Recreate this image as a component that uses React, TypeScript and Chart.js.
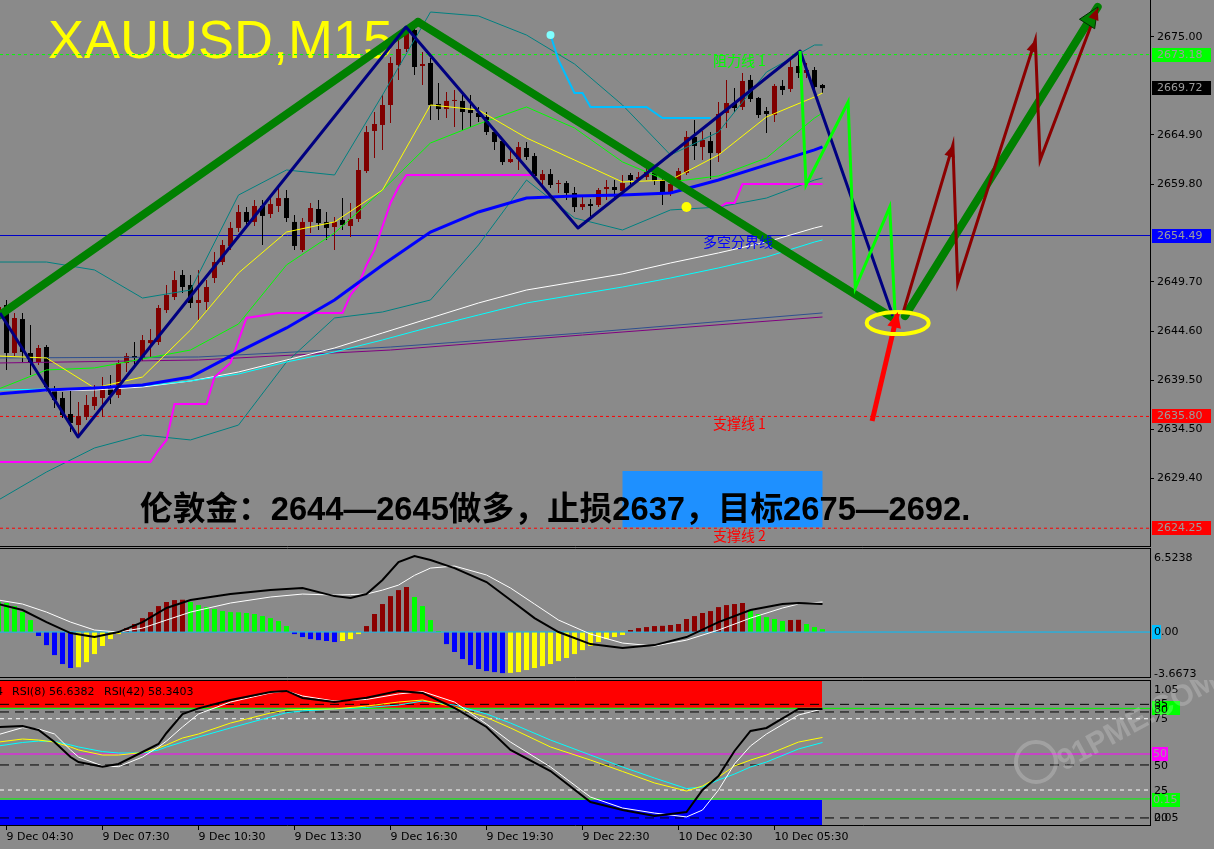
import React, { useEffect, useRef } from "react";
import { Chart, registerables } from "chart.js";

Chart.register(...registerables);

const BG = "#8a8a8a";
const AXIS_FONT = "'DejaVu Sans', Tahoma, sans-serif";

// ---------- time axis (bar index, M15 bars) ----------
const FIRST_BAR = -1;
const X_MIN = -0.8125;
const X_MAX = 142.9375;
const timeTickIdx = [0, 12, 24, 36, 48, 60, 72, 84, 96];
const timeLabels = [
  "9 Dec 04:30", "9 Dec 07:30", "9 Dec 10:30", "9 Dec 13:30", "9 Dec 16:30",
  "9 Dec 19:30", "9 Dec 22:30", "10 Dec 02:30", "10 Dec 05:30",
];

// ---------- XAUUSD M15 candles (bar -1 .. 102) ----------
const opens = [
  2645.97, 2647.31, 2642.35, 2645.86, 2642.35, 2641.42, 2642.97, 2638.53, 2637.70, 2636.05,
  2634.91, 2635.74, 2636.88, 2637.70, 2638.74, 2638.01, 2641.32, 2642.04, 2641.84, 2643.38,
  2643.49, 2646.79, 2648.14, 2650.41, 2649.38, 2647.52, 2647.62, 2650.10, 2651.75, 2653.41,
  2655.27, 2656.92, 2655.89, 2657.54, 2656.71, 2657.54, 2658.36, 2655.89, 2652.99, 2655.89,
  2657.23, 2655.89, 2655.37, 2656.09, 2655.47, 2656.20, 2661.15, 2665.29, 2665.91, 2667.97,
  2672.10, 2673.76, 2675.72, 2672.00, 2672.31, 2668.08, 2667.56, 2668.39, 2668.39, 2667.46,
  2667.15, 2666.73, 2665.18, 2664.25, 2662.08, 2662.39, 2663.53, 2662.70, 2660.22, 2660.84,
  2659.81, 2659.91, 2658.88, 2657.43, 2657.74, 2657.64, 2659.29, 2659.50, 2659.09, 2660.74,
  2660.33, 2660.53, 2660.95, 2660.22, 2658.78, 2659.81, 2660.95, 2664.67, 2663.63, 2664.25,
  2663.01, 2667.15, 2668.18, 2667.77, 2670.56, 2668.70, 2667.35, 2666.94, 2669.94, 2669.63,
  2672.00, 2671.28, 2671.59, 2670.04,
];
const highs = [
  2647.52, 2647.83, 2646.49, 2646.49, 2645.24, 2643.18, 2643.18, 2638.94, 2638.32, 2638.53,
  2637.29, 2638.01, 2639.05, 2639.87, 2640.08, 2641.63, 2642.35, 2643.49, 2644.21, 2644.83,
  2647.31, 2649.38, 2650.82, 2650.93, 2650.41, 2650.93, 2649.89, 2652.79, 2654.03, 2655.89,
  2657.64, 2657.43, 2658.16, 2658.16, 2658.36, 2659.71, 2659.19, 2656.61, 2656.30, 2657.85,
  2658.16, 2656.92, 2656.40, 2658.36, 2657.85, 2662.50, 2665.80, 2667.25, 2669.01, 2672.93,
  2674.89, 2676.03, 2676.13, 2673.45, 2672.83, 2670.25, 2669.32, 2669.52, 2669.32, 2669.01,
  2667.77, 2667.25, 2665.39, 2664.46, 2663.32, 2664.15, 2664.15, 2663.01, 2661.26, 2661.36,
  2660.22, 2660.12, 2659.50, 2658.67, 2658.26, 2659.40, 2660.22, 2660.22, 2660.74, 2660.95,
  2661.05, 2661.46, 2661.36, 2660.43, 2660.02, 2661.46, 2665.29, 2666.42, 2665.29, 2665.18,
  2668.28, 2670.56, 2669.73, 2671.28, 2671.07, 2668.80, 2667.77, 2670.14, 2670.56, 2672.62,
  2673.45, 2672.31, 2671.90, 2670.14,
];
const lows = [
  2645.76, 2640.60, 2642.04, 2641.42, 2640.08, 2641.11, 2638.32, 2636.67, 2635.64, 2634.19,
  2633.78, 2635.43, 2636.46, 2635.74, 2637.08, 2637.70, 2640.39, 2640.80, 2641.53, 2641.94,
  2643.18, 2646.48, 2647.83, 2648.55, 2647.00, 2645.76, 2646.79, 2649.58, 2651.44, 2652.99,
  2654.85, 2655.47, 2655.47, 2653.51, 2656.30, 2656.92, 2655.89, 2652.99, 2652.79, 2654.75,
  2655.06, 2654.03, 2652.99, 2655.06, 2654.34, 2655.89, 2660.95, 2662.50, 2663.32, 2666.11,
  2670.56, 2673.45, 2671.07, 2670.04, 2666.42, 2666.42, 2666.63, 2665.70, 2665.39, 2665.70,
  2666.22, 2664.87, 2663.32, 2661.77, 2661.98, 2661.26, 2662.29, 2660.43, 2659.50, 2659.40,
  2658.88, 2658.16, 2656.92, 2657.12, 2656.40, 2657.43, 2658.16, 2658.26, 2658.98, 2659.60,
  2660.02, 2660.22, 2659.71, 2657.64, 2658.57, 2659.60, 2660.74, 2662.29, 2662.29, 2660.33,
  2662.08, 2665.60, 2667.25, 2667.46, 2668.28, 2666.63, 2665.08, 2666.22, 2669.01, 2669.32,
  2670.76, 2670.76, 2669.32, 2669.21,
];
const closes = [
  2647.10, 2642.35, 2645.97, 2642.46, 2641.42, 2642.87, 2638.84, 2637.50, 2635.95, 2635.12,
  2635.84, 2636.98, 2637.81, 2638.74, 2638.01, 2641.32, 2642.04, 2641.84, 2643.69, 2643.69,
  2647.00, 2648.34, 2649.89, 2649.17, 2647.52, 2647.83, 2649.17, 2651.75, 2653.51, 2655.27,
  2656.92, 2655.89, 2657.54, 2656.51, 2657.74, 2658.36, 2656.30, 2653.41, 2655.89, 2657.33,
  2655.78, 2655.27, 2655.89, 2655.58, 2656.20, 2661.26, 2665.18, 2666.01, 2667.97, 2672.31,
  2673.76, 2675.62, 2671.90, 2672.21, 2667.97, 2667.56, 2668.39, 2668.49, 2667.25, 2667.15,
  2666.73, 2665.18, 2664.15, 2662.08, 2662.39, 2663.63, 2662.60, 2660.64, 2660.84, 2659.71,
  2659.91, 2658.88, 2657.43, 2657.74, 2657.54, 2659.19, 2659.50, 2659.19, 2659.91, 2660.22,
  2660.53, 2661.05, 2660.12, 2658.98, 2659.81, 2661.15, 2664.67, 2663.74, 2664.36, 2663.01,
  2667.04, 2668.18, 2667.66, 2670.45, 2668.59, 2666.94, 2667.04, 2669.94, 2669.52, 2671.90,
  2671.28, 2671.59, 2669.83, 2669.72,
];

// ---------- main-window indicators ----------
const maKnots = [-1, 5, 11, 17, 23, 29, 35, 41, 47, 53, 59, 65, 71, 77, 83, 89, 95, 101, 102];
const maBlue = [2638.12, 2638.53, 2638.74, 2639.05, 2639.87, 2642.46, 2644.94, 2647.83, 2651.45, 2654.85, 2656.92, 2658.37, 2658.57, 2658.68, 2658.88, 2660.23, 2661.78, 2663.33, 2663.64];
const maYellow = [2642.04, 2641.84, 2638.74, 2639.87, 2644.73, 2650.62, 2654.85, 2655.89, 2659.19, 2667.98, 2667.46, 2664.57, 2662.29, 2660.02, 2660.23, 2662.81, 2666.74, 2668.80, 2669.21];
const maGreen = [2638.63, 2640.60, 2640.81, 2641.74, 2642.66, 2645.35, 2651.45, 2654.75, 2659.19, 2664.05, 2666.01, 2667.77, 2665.60, 2662.09, 2660.02, 2660.64, 2662.50, 2666.63, 2667.15];
const bbUpper = [2651.75, 2651.75, 2650.93, 2648.03, 2648.86, 2658.67, 2661.26, 2660.74, 2669.01, 2677.58, 2677.17, 2675.20, 2672.21, 2667.97, 2662.81, 2665.18, 2671.38, 2674.17, 2674.17];
const bbLower = [2627.17, 2630.06, 2632.54, 2633.88, 2633.37, 2634.91, 2641.42, 2645.97, 2646.59, 2647.83, 2653.51, 2660.22, 2656.30, 2655.06, 2657.13, 2657.43, 2658.36, 2660.22, 2660.43];
const maWhite = [2638.22, 2638.43, 2638.53, 2638.84, 2639.46, 2640.39, 2641.63, 2642.87, 2644.42, 2645.97, 2647.52, 2648.86, 2649.69, 2650.52, 2651.65, 2652.69, 2653.82, 2655.27, 2655.47];
const maCyan = [2638.53, 2638.63, 2638.74, 2638.95, 2639.46, 2640.18, 2641.42, 2642.46, 2643.70, 2645.04, 2646.28, 2647.52, 2648.35, 2649.17, 2650.10, 2651.14, 2652.27, 2653.82, 2654.03];
const slowKnots = [-1, 24, 48, 72, 102];
const maSlate = [2641.84, 2641.94, 2642.97, 2644.42, 2646.49];
const maPurple = [2641.32, 2641.63, 2642.66, 2644.21, 2646.07];
const magentaIdx = [-1, 18, 19, 20, 21, 25, 26, 28, 30, 34, 42, 43, 44, 45, 46, 48, 49, 50, 66, 67, 89, 90, 91, 92, 102];
const magentaVal = [2631.09, 2631.09, 2632.33, 2633.37, 2637.09, 2637.09, 2639.87, 2641.32, 2645.97, 2646.49, 2646.49, 2648.35, 2649.38, 2651.45, 2653.00, 2657.85, 2659.50, 2660.74, 2660.74, null, 2657.33, 2657.85, 2657.85, 2659.81, 2659.81];
const skyIdx = [68, 69, 71, 72, 73, 80, 82, 88];
const skyVal = [2675.20, 2672.62, 2669.21, 2669.21, 2667.77, 2667.77, 2666.63, 2666.63];
const cyanDot = [68, 2675.20];
const yellowDot = [85, 2657.44];

// ---------- drawn objects (time index, price) ----------
const greenAX = [-0.81, 51.44];
const greenAY = [2646.28, 2676.55];
const greenBX = [51.44, 110.8];
const greenBY = [2676.55, 2645.97];
const greenCX = [112.3, 136.4];
const greenCY = [2646.17, 2678.1];
const navyX = [-0.81, 8.94, 49.94, 71.44, 99.2, 110.8];
const navyY = [2646.48, 2633.67, 2676.03, 2655.27, 2673.55, 2646.17];
const limeX = [99.2, 99.94, 105.2, 106.1, 110.4, 111.1];
const limeY = [2673.55, 2659.71, 2668.28, 2649.07, 2657.43, 2645.97];
const maroonX = [112.1, 118.3, 118.9, 128.6, 129.2, 136.4];
const maroonY = [2646.59, 2663.84, 2649.58, 2674.69, 2662.29, 2677.99];
const redArrowX = [108.2, 111.4];
const redArrowY = [2635.33, 2646.59];
const ellipseCenter = [111.4, 2645.45];
const hLevels = [
  { value: 2673.18, color: "#00ff00", dash: [3, 3] },
  { value: 2654.49, color: "#0000c8", dash: [] },
  { value: 2635.8, color: "#ff0000", dash: [3, 3] },
  { value: 2624.25, color: "#ff0000", dash: [3, 3] },
];
const objectLabels = [
  { text: "阻力线 1", x: 88.3, y: 2672.52, color: "#00ff00" },
  { text: "多空分界线", x: 87.06, y: 2653.82, color: "#0000ff" },
  { text: "支撑线 1", x: 88.3, y: 2635.02, color: "#ff0000" },
  { text: "支撑线 2", x: 88.3, y: 2623.45, color: "#ff0000" },
];
const noteBoxX = [77, 102];
const noteBoxY = [2624.35, 2630.16];
const chartTitle = "XAUUSD,M15";
const noteText = "伦敦金：2644—2645做多，止损2637，目标2675—2692.";
const priceTicks = [2675.0, 2664.9, 2659.8, 2649.7, 2644.6, 2639.5, 2634.5, 2629.4];
const priceMarks = [
  { value: 2673.18, bg: "#00ff00" },
  { value: 2669.72, bg: "#000000" },
  { value: 2654.49, bg: "#0000ff" },
  { value: 2635.8, bg: "#ff0000" },
  { value: 2624.25, bg: "#ff0000" },
];
const PRICE_MIN = 2622.31;
const PRICE_MAX = 2678.82;

// ---------- MACD window ----------
const macdHist = [
  2.65, 2.56, 2.29, 1.76, 1.06, -0.35, -1.15, -2.03, -2.82, -3.17,
  -3.10, -2.65, -1.94, -1.23, -0.62, -0.18, 0.35, 0.71, 1.23, 1.76,
  2.29, 2.65, 2.82, 2.85, 2.65, 2.38, 2.20, 2.03, 1.85, 1.76,
  1.74, 1.68, 1.59, 1.41, 1.23, 0.97, 0.53, -0.18, -0.44, -0.62,
  -0.71, -0.79, -0.88, -0.79, -0.62, -0.18, 0.53, 1.59, 2.47, 3.17,
  3.70, 3.97, 3.09, 2.29, 1.06, 0.09, -1.06, -1.76, -2.38, -2.91,
  -3.26, -3.44, -3.53, -3.62, -3.60, -3.53, -3.35, -3.17, -3.00, -2.82,
  -2.56, -2.29, -1.94, -1.59, -1.23, -0.88, -0.62, -0.44, -0.26, 0.18,
  0.35, 0.44, 0.53, 0.55, 0.62, 0.71, 1.15, 1.41, 1.68, 1.85,
  2.20, 2.38, 2.47, 2.56, 1.94, 1.59, 1.32, 1.15, 0.97, 1.06,
  1.08, 0.71, 0.44, 0.26,
];
const macdKnots = [-1, 2, 5, 8, 11, 14, 17, 20, 23, 28, 33, 37, 41, 43, 45, 47, 49, 51, 53, 56, 60, 63, 66, 69, 73, 77, 81, 85, 89, 93, 97, 99, 102];
const macdMain = [2.47, 1.94, 0.88, -0.09, -0.44, 0, 0.88, 2.12, 2.82, 3.35, 3.70, 3.88, 3.17, 3.0, 3.35, 4.59, 6.17, 6.70, 6.35, 5.64, 4.41, 2.82, 1.23, 0, -1.06, -1.41, -1.15, -0.44, 0.88, 1.94, 2.47, 2.56, 2.47];
const macdSignal = [2.82, 2.47, 1.76, 0.88, 0.18, 0, 0.35, 1.06, 1.76, 2.56, 3.09, 3.35, 3.26, 3.3, 3.35, 3.7, 4.14, 5.0, 5.64, 5.82, 5.03, 3.88, 2.47, 1.06, -0.18, -0.97, -1.23, -0.71, 0.18, 1.23, 2.12, 2.47, 2.65];
const macdTickVals = [6.5238, 0, -3.6673];
const macdTickText = ["6.5238", "0.00", "-3.6673"];
const MACD_MIN = -4.05;
const MACD_MAX = 7.41;

// ---------- RSI window ----------
const rsiKnots = [-1, 2, 4, 6, 8, 9, 12, 14, 17, 19, 20, 22, 24, 28, 33, 35, 37, 41, 45, 49, 52, 56, 60, 63, 68, 73, 77, 81, 85, 87, 89, 91, 93, 95, 99, 102];
const rsiBlack = [68.1, 68.75, 66.0, 57.6, 47.2, 43.75, 40.5, 42.4, 50.7, 56.25, 63.9, 77.1, 81.0, 86.8, 92.4, 93.1, 88.2, 85.4, 88.4, 93.1, 91.7, 81.25, 68.1, 52.1, 37.5, 16.0, 10.4, 6.25, 9.0, 24.3, 34.0, 51.4, 65.3, 67.4, 80.6, 80.6];
const rsiWhite = [62.8, 67.6, 66.7, 63.2, 52.1, 47.2, 41.0, 40.5, 47.2, 54.2, 58.3, 68.1, 77.1, 85.4, 91.7, 93.1, 89.6, 86.1, 87.2, 91.0, 92.7, 85.4, 70.1, 57.6, 40.3, 19.4, 11.8, 8.3, 5.6, 10.4, 24.3, 42.4, 54.9, 63.2, 76.4, 80.6];
const rsiYellow = [57.6, 59.7, 59.0, 57.6, 54.2, 52.1, 48.6, 48.6, 50.3, 53.5, 55.6, 60.4, 63.2, 70.8, 77.8, 79.9, 80.2, 80.6, 82.6, 85.4, 86.8, 81.9, 74.7, 67.4, 54.2, 45.1, 37.2, 29.2, 23.6, 27.1, 33.3, 41.0, 45.1, 48.6, 57.6, 60.8];
const rsiCyan = [54.9, 57.3, 58.3, 58.0, 55.6, 54.2, 51.0, 50.0, 50.0, 52.1, 54.2, 57.6, 61.1, 67.4, 75.0, 78.0, 79.2, 80.6, 81.6, 83.3, 86.1, 83.3, 77.1, 70.8, 59.0, 48.6, 40.3, 32.6, 25.3, 26.4, 31.25, 35.4, 40.3, 43.75, 52.8, 57.3];
const rsiBandEnd = 101.95;
const rsiRedZone = [81.5, 100.7];
const rsiBlueZone = [0, 17.4];
const rsiLevels = [
  { value: 83.8, color: "#000000", dash: [9, 6] },
  { value: 78.5, color: "#000000", dash: [9, 6] },
  { value: 41.7, color: "#000000", dash: [9, 6] },
  { value: 4.9, color: "#000000", dash: [9, 6] },
  { value: 73.8, color: "#ffffff", dash: [4, 4] },
  { value: 24.3, color: "#ffffff", dash: [4, 4] },
  { value: 81.0, color: "#00ff00", dash: [] },
  { value: 18.1, color: "#00ff00", dash: [] },
  { value: 49.3, color: "#ff00ff", dash: [] },
];
const rsiAxisText = [
  { v: 93.5, text: "1.05" }, { v: 83.6, text: "85" }, { v: 80.1, text: "80" },
  { v: 73.6, text: "75" }, { v: 41.0, text: "50" }, { v: 23.6, text: "25" },
  { v: 4.9, text: "20" }, { v: 4.9, text: "0.05" },
];
const rsiAxisBoxes = [
  { v: 81.6, w: 28, bg: "#00ff00", text: "" },
  { v: 49.3, w: 16, bg: "#ff00ff", text: "50" },
  { v: 17.4, w: 28, bg: "#00ff00", text: "0.15" },
];
const rsiCaption = ["RSI(8) 56.6382", "RSI(42) 58.3403"];
const RSI_MIN = 0;
const RSI_MAX = 100.7;

// ---------- helpers ----------
const barIdx = opens.map((_, k) => FIRST_BAR + k);
const pts = (xs: number[], ys: (number | null)[]) => xs.map((x, k) => ({ x, y: ys[k] }));

function line(data: any[], color: string, width: number, order: number, extra: any = {}) {
  return {
    type: "line", data, borderColor: color, backgroundColor: color, borderWidth: width,
    pointRadius: 0, pointHoverRadius: 0, fill: false, tension: 0, order, spanGaps: false, ...extra,
  };
}
function hline(value: number, color: string, dash: number[], order: number, width = 1) {
  return line([{ x: X_MIN, y: value }, { x: X_MAX, y: value }], color, width, order, { borderDash: dash });
}

const common: any = {
  responsive: false,
  maintainAspectRatio: false,
  animation: false,
  events: [],
  layout: { padding: 0, autoPadding: false },
  plugins: { legend: { display: false }, tooltip: { enabled: false }, title: { display: false } },
};
const xHidden = { type: "linear", min: X_MIN, max: X_MAX, offset: false, display: false };
const fixY = (s: any) => { s.width = 64; s.paddingTop = 0; s.paddingBottom = 0; };

function arrowHead(ctx: any, fx: number, fy: number, tx: number, ty: number, size: number, fill: string, stroke?: string) {
  const a = Math.atan2(ty - fy, tx - fx);
  ctx.beginPath();
  ctx.moveTo(tx, ty);
  ctx.lineTo(tx - size * Math.cos(a - 0.42), ty - size * Math.sin(a - 0.42));
  ctx.lineTo(tx - size * Math.cos(a + 0.42), ty - size * Math.sin(a + 0.42));
  ctx.closePath();
  ctx.fillStyle = fill;
  ctx.fill();
  if (stroke) { ctx.strokeStyle = stroke; ctx.lineWidth = 1; ctx.stroke(); }
}

// ---------- main chart ----------
function mainConfig(): any {
  const cColors = opens.map((o, k) => (closes[k] >= o ? "#800000" : "#000000"));
  const overlay = {
    id: "mainOverlay",
    beforeDatasetsDraw(chart: any) {
      const { ctx } = chart;
      const xs = chart.scales.x, ys = chart.scales.y;
      ctx.save();
      const bx1 = xs.getPixelForValue(noteBoxX[0]);
      const bx2 = xs.getPixelForValue(noteBoxX[1]);
      const by1 = ys.getPixelForValue(noteBoxY[1]);
      const by2 = ys.getPixelForValue(noteBoxY[0]);
      ctx.fillStyle = "#1e90ff";
      ctx.fillRect(bx1, by1, bx2 - bx1, by2 - by1);
      ctx.font = "54px 'Liberation Sans', Arial, sans-serif";
      ctx.fillStyle = "#ffff00";
      ctx.textAlign = "left";
      ctx.textBaseline = "alphabetic";
      ctx.fillText(chartTitle, 48, 58);
      ctx.restore();
    },
    afterDatasetsDraw(chart: any) {
      const { ctx } = chart;
      const xs = chart.scales.x, ys = chart.scales.y;
      const px = (v: number) => xs.getPixelForValue(v);
      const py = (v: number) => ys.getPixelForValue(v);
      ctx.save();
      ctx.strokeStyle = "#ffff00";
      ctx.lineWidth = 4;
      ctx.beginPath();
      ctx.ellipse(px(ellipseCenter[0]), py(ellipseCenter[1]), 31, 11, 0, 0, Math.PI * 2);
      ctx.stroke();
      arrowHead(ctx, px(redArrowX[0]), py(redArrowY[0]), px(redArrowX[1]), py(redArrowY[1]), 17, "#ff0000");
      arrowHead(ctx, px(greenCX[0]), py(greenCY[0]), px(greenCX[1]), py(greenCY[1]), 22, "#008000", "#003000");
      [1, 3, 5].forEach((k) => {
        arrowHead(ctx, px(maroonX[k - 1]), py(maroonY[k - 1]), px(maroonX[k]), py(maroonY[k]), 13, "#8b0000");
      });
      ctx.textAlign = "left";
      ctx.textBaseline = "middle";
      ctx.font = "14px 'Noto Sans CJK SC', sans-serif";
      objectLabels.forEach((l) => {
        ctx.fillStyle = l.color;
        ctx.fillText(l.text, px(l.x), py(l.y));
      });
      ctx.textBaseline = "alphabetic";
      ctx.font = "bold 32.7px 'Liberation Sans', 'Noto Sans CJK SC', sans-serif";
      ctx.fillStyle = "#000000";
      ctx.fillText(noteText, 140, 520);
      ctx.restore();
    },
    afterDraw(chart: any) {
      const { ctx, chartArea } = chart;
      const ys = chart.scales.y;
      ctx.save();
      ctx.strokeStyle = "#000000";
      ctx.lineWidth = 1;
      ctx.beginPath();
      ctx.moveTo(0, chartArea.bottom - 0.5);
      ctx.lineTo(chartArea.right + 0.5, chartArea.bottom - 0.5);
      ctx.stroke();
      ctx.font = "11px " + AXIS_FONT;
      ctx.textAlign = "left";
      ctx.textBaseline = "middle";
      priceMarks.forEach((m) => {
        const y = Math.round(ys.getPixelForValue(m.value));
        ctx.fillStyle = m.bg;
        ctx.fillRect(chartArea.right + 2, y - 7, 59, 14);
        ctx.fillStyle = "#9c9c9c";
        ctx.fillText(m.value.toFixed(2), chartArea.right + 7, y + 0.5);
      });
      ctx.restore();
    },
  };

  const datasets: any[] = [];
  hLevels.forEach((h, k) => datasets.push(hline(h.value, h.color, h.dash, 90 + k)));
  datasets.push({
    type: "bar", data: barIdx.map((x, k) => ({ x, y: [lows[k], highs[k]] })),
    backgroundColor: cColors, barThickness: 1, grouped: false, borderWidth: 0, inflateAmount: 0, order: 60,
  });
  datasets.push({
    type: "bar", data: barIdx.map((x, k) => ({ x, y: [opens[k], closes[k]] })),
    backgroundColor: cColors, barThickness: 5, grouped: false, borderWidth: 0, inflateAmount: 0, minBarLength: 1, order: 59,
  });
  datasets.push(line(pts(slowKnots, maSlate), "#2f4f8f", 1, 50));
  datasets.push(line(pts(slowKnots, maPurple), "#800080", 1, 49));
  datasets.push(line(pts(maKnots, bbUpper), "#008080", 1, 48));
  datasets.push(line(pts(maKnots, bbLower), "#008080", 1, 47));
  datasets.push(line(pts(maKnots, maWhite), "#ffffff", 1, 46));
  datasets.push(line(pts(maKnots, maCyan), "#00ffff", 1, 45));
  datasets.push(line(pts(magentaIdx, magentaVal), "#ff00ff", 2, 44));
  datasets.push(line(pts(skyIdx, skyVal), "#00bfff", 2, 43));
  datasets.push(line(pts(maKnots, maGreen), "#00ff00", 1, 42));
  datasets.push(line(pts(maKnots, maYellow), "#ffff00", 1, 41));
  datasets.push(line(pts(maKnots, maBlue), "#0000ff", 3, 40));
  datasets.push(line([{ x: cyanDot[0], y: cyanDot[1] }], "#80ffff", 0, 39, { showLine: false, pointRadius: 4, pointBorderWidth: 0, pointBackgroundColor: "#80ffff" }));
  datasets.push(line([{ x: yellowDot[0], y: yellowDot[1] }], "#ffff00", 0, 38, { showLine: false, pointRadius: 5, pointBorderWidth: 0, pointBackgroundColor: "#ffff00" }));
  datasets.push(line(pts(greenAX, greenAY), "#008000", 8, 20, { borderCapStyle: "round" }));
  datasets.push(line(pts(greenBX, greenBY), "#008000", 8, 19, { borderCapStyle: "round" }));
  datasets.push(line(pts(greenCX, greenCY), "#008000", 8, 18, { borderCapStyle: "round" }));
  datasets.push(line(pts(navyX, navyY), "#000080", 3, 17, { borderJoinStyle: "round" }));
  datasets.push(line(pts(limeX, limeY), "#00ff00", 3, 16));
  datasets.push(line(pts(maroonX, maroonY), "#8b0000", 3, 15));
  datasets.push(line(pts(redArrowX, redArrowY), "#ff0000", 5, 14));

  return {
    type: "bar",
    data: { datasets },
    options: {
      ...common,
      scales: {
        x: xHidden,
        y: {
          type: "linear", position: "right", min: PRICE_MIN, max: PRICE_MAX,
          afterBuildTicks: (s: any) => { s.ticks = priceTicks.map((v) => ({ value: v })); },
          afterFit: fixY,
          ticks: { callback: (v: any) => Number(v).toFixed(2), color: "#000000", font: { family: AXIS_FONT, size: 11 }, padding: 3, autoSkip: false },
          grid: { display: true, drawOnChartArea: false, drawTicks: true, tickLength: 4, color: "#000000" },
          border: { display: true, color: "#000000" },
        },
      },
    },
    plugins: [overlay],
  };
}

// ---------- MACD chart ----------
function macdConfig(): any {
  const histColors = macdHist.map((v, k) => {
    const prev = k > 0 ? macdHist[k - 1] : v + 0.1;
    if (v >= 0) return v >= prev ? "#8b0000" : "#00ff00";
    return v <= prev ? "#0000ff" : "#ffff00";
  });
  const frame = {
    id: "macdFrame",
    beforeDraw(chart: any) {
      const { ctx, chartArea } = chart;
      const y = Math.round(chart.scales.y.getPixelForValue(0));
      ctx.save();
      ctx.fillStyle = "#00bfff";
      ctx.fillRect(chartArea.right + 2, y - 7, 9, 14);
      ctx.restore();
    },
    afterDraw(chart: any) {
      const { ctx, chartArea } = chart;
      ctx.save();
      ctx.strokeStyle = "#000000";
      ctx.lineWidth = 1;
      ctx.beginPath();
      ctx.moveTo(0, chartArea.top + 0.5);
      ctx.lineTo(chartArea.right + 0.5, chartArea.top + 0.5);
      ctx.moveTo(0, chartArea.bottom - 0.5);
      ctx.lineTo(chartArea.right + 0.5, chartArea.bottom - 0.5);
      ctx.stroke();
      ctx.restore();
    },
  };
  return {
    type: "bar",
    data: {
      datasets: [
        hline(0, "#00bfff", [], 30),
        { type: "bar", data: barIdx.map((x, k) => ({ x, y: macdHist[k] })), backgroundColor: histColors, barThickness: 5, grouped: false, borderWidth: 0, inflateAmount: 0, order: 20 },
        line(pts(macdKnots, macdSignal), "#ffffff", 1, 10),
        line(pts(macdKnots, macdMain), "#000000", 2, 5),
      ],
    },
    options: {
      ...common,
      scales: {
        x: xHidden,
        y: {
          type: "linear", position: "right", min: MACD_MIN, max: MACD_MAX,
          afterBuildTicks: (s: any) => { s.ticks = macdTickVals.map((v) => ({ value: v })); },
          afterFit: fixY,
          ticks: { callback: (_v: any, i: number) => macdTickText[i], color: "#000000", font: { family: AXIS_FONT, size: 11 }, padding: 2, autoSkip: false },
          grid: { display: true, drawOnChartArea: false, drawTicks: true, tickLength: 2, color: "rgba(0,0,0,0)" },
          border: { display: true, color: "#000000" },
        },
      },
    },
    plugins: [frame],
  };
}

// ---------- RSI chart ----------
function rsiConfig(): any {
  const frame = {
    id: "rsiFrame",
    afterDraw(chart: any) {
      const { ctx, chartArea } = chart;
      const ys = chart.scales.y;
      ctx.save();
      ctx.strokeStyle = "#000000";
      ctx.lineWidth = 1;
      ctx.beginPath();
      ctx.moveTo(0, chartArea.top + 0.5);
      ctx.lineTo(chartArea.right + 0.5, chartArea.top + 0.5);
      ctx.stroke();
      ctx.font = "11px " + AXIS_FONT;
      ctx.textAlign = "left";
      ctx.textBaseline = "middle";
      ctx.fillStyle = "#000000";
      ctx.fillText("4", -4, chartArea.top + 12);
      ctx.fillText(rsiCaption[0], 12, chartArea.top + 12);
      ctx.fillText(rsiCaption[1], 104, chartArea.top + 12);
      const rx = chartArea.right;
      rsiAxisBoxes.forEach((b) => {
        const y = Math.round(ys.getPixelForValue(b.v));
        ctx.fillStyle = b.bg;
        ctx.fillRect(rx + 2, y - 7, b.w, 14);
        if (b.text) {
          ctx.fillStyle = "#9c9c9c";
          ctx.fillText(b.text, rx + 3, y + 0.5);
        }
      });
      ctx.fillStyle = "#000000";
      rsiAxisText.forEach((t) => {
        ctx.fillText(t.text, rx + 4, ys.getPixelForValue(t.v));
      });
      // faint site watermark
      ctx.globalAlpha = 0.2;
      ctx.strokeStyle = "#ffffff";
      ctx.fillStyle = "#ffffff";
      ctx.lineWidth = 4;
      ctx.beginPath();
      ctx.arc(1036, 82, 20, 0, Math.PI * 2);
      ctx.stroke();
      ctx.translate(1060, 84);
      ctx.rotate(-0.5);
      ctx.font = "bold 30px 'Liberation Sans', sans-serif";
      ctx.fillText("91PME.COM", 0, 0);
      ctx.restore();
    },
  };
  const datasets: any[] = [
    line([{ x: X_MIN, y: rsiRedZone[1] }, { x: rsiBandEnd, y: rsiRedZone[1] }], "rgba(0,0,0,0)", 0, 100, { fill: { value: rsiRedZone[0] }, backgroundColor: "#ff0000" }),
    line([{ x: X_MIN, y: rsiBlueZone[1] }, { x: rsiBandEnd, y: rsiBlueZone[1] }], "rgba(0,0,0,0)", 0, 99, { fill: { value: rsiBlueZone[0] }, backgroundColor: "#0000ff" }),
  ];
  rsiLevels.forEach((l, k) => datasets.push(hline(l.value, l.color, l.dash, 80 - k)));
  datasets.push(line(pts(rsiKnots, rsiCyan), "#00ffff", 1, 13));
  datasets.push(line(pts(rsiKnots, rsiYellow), "#ffff00", 1, 12));
  datasets.push(line(pts(rsiKnots, rsiWhite), "#ffffff", 1, 11));
  datasets.push(line(pts(rsiKnots, rsiBlack), "#000000", 2, 10));
  return {
    type: "line",
    data: { datasets },
    options: {
      ...common,
      scales: {
        x: {
          type: "linear", position: "bottom", min: X_MIN, max: X_MAX, offset: false,
          afterBuildTicks: (s: any) => { s.ticks = timeTickIdx.map((v) => ({ value: v })); },
          afterFit: (s: any) => { s.height = 24; s.paddingLeft = 0; s.paddingRight = 0; },
          ticks: {
            callback: (_v: any, i: number) => timeLabels[i], align: "start", maxRotation: 0, minRotation: 0,
            autoSkip: false, color: "#000000", font: { family: AXIS_FONT, size: 11 }, padding: 1,
          },
          grid: { display: true, drawOnChartArea: false, drawTicks: true, tickLength: 5, color: "#000000" },
          border: { display: true, color: "#000000" },
        },
        y: {
          type: "linear", position: "right", min: RSI_MIN, max: RSI_MAX,
          afterFit: fixY,
          ticks: { display: false },
          grid: { display: false },
          border: { display: true, color: "#000000" },
        },
      },
    },
    plugins: [frame],
  };
}

export default function App() {
  const mainRef = useRef<HTMLCanvasElement>(null);
  const macdRef = useRef<HTMLCanvasElement>(null);
  const rsiRef = useRef<HTMLCanvasElement>(null);
  useEffect(() => {
    document.body.style.margin = "0";
    document.body.style.background = BG;
    const charts = [
      new Chart(mainRef.current as HTMLCanvasElement, mainConfig()),
      new Chart(macdRef.current as HTMLCanvasElement, macdConfig()),
      new Chart(rsiRef.current as HTMLCanvasElement, rsiConfig()),
    ];
    return () => charts.forEach((c) => c.destroy());
  }, []);
  return (
    <div style={{ position: "relative", width: 1214, height: 849, background: BG, overflow: "hidden" }}>
      <canvas ref={mainRef} width={1214} height={547} style={{ position: "absolute", left: 0, top: 0 }} />
      <canvas ref={macdRef} width={1214} height={130} style={{ position: "absolute", left: 0, top: 548 }} />
      <canvas ref={rsiRef} width={1214} height={169} style={{ position: "absolute", left: 0, top: 680 }} />
    </div>
  );
}
